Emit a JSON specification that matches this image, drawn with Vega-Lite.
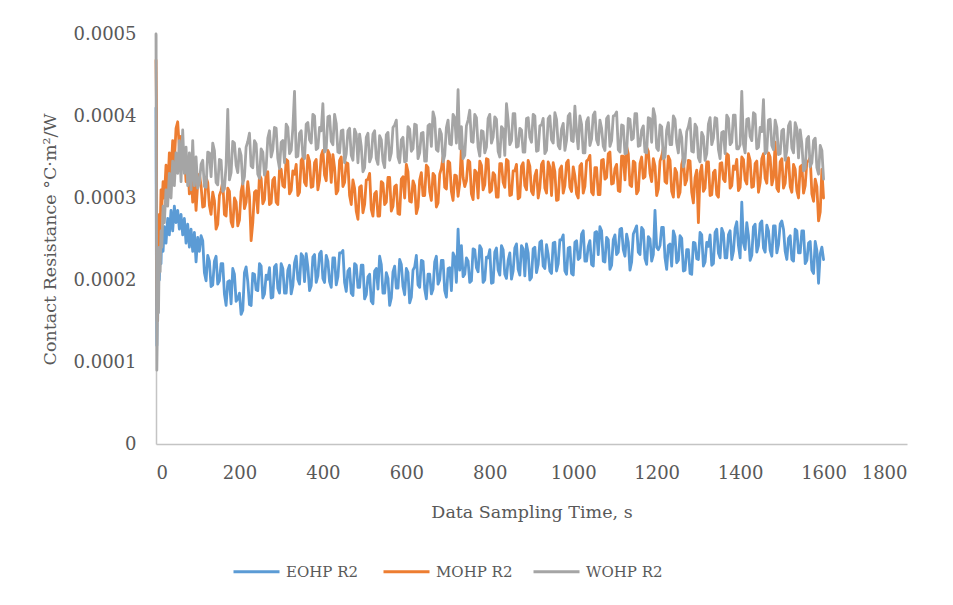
{
  "$schema": "https://vega.github.io/schema/vega-lite/v6.json",
  "autosize": {"type": "none"},
  "width": 751,
  "height": 410,
  "padding": {"left": 156, "top": 34, "right": 46, "bottom": 161},
  "background": "#ffffff",
  "config": {
    "view": {"stroke": null},
    "font": "DejaVu Serif",
    "axis": {"labelFont": "DejaVu Serif", "titleFont": "DejaVu Serif", "labelColor": "#595959", "titleColor": "#595959", "titleFontWeight": "normal", "labelFontSize": 18, "titleFontSize": 17.5, "ticks": false, "grid": false, "domainColor": "#c4c4c4", "domainWidth": 1.5},
    "legend": {"labelFont": "DejaVu Serif", "labelColor": "#595959", "labelFontSize": 15}
  },
  "data": {"values": [
    {"t":0,"EOHP R2":0.000410,"MOHP R2":0.000468,"WOHP R2":0.000500},
    {"t":1,"EOHP R2":0.000200,"MOHP R2":0.000420,"WOHP R2":0.000300},
    {"t":2,"EOHP R2":0.000120,"MOHP R2":0.000200,"WOHP R2":0.000090},
    {"t":3,"EOHP R2":0.000180,"MOHP R2":0.000150,"WOHP R2":0.000130},
    {"t":4,"EOHP R2":0.000150,"MOHP R2":0.000250,"WOHP R2":0.000190},
    {"t":6,"EOHP R2":0.000230,"MOHP R2":0.000210,"WOHP R2":0.000160},
    {"t":8,"EOHP R2":0.000200,"MOHP R2":0.000280,"WOHP R2":0.000240},
    {"t":10,"EOHP R2":0.000240,"MOHP R2":0.000260,"WOHP R2":0.000210},
    {"t":12,"EOHP R2":0.000220,"MOHP R2":0.000310,"WOHP R2":0.000260},
    {"t":14,"EOHP R2":0.000260,"MOHP R2":0.000290,"WOHP R2":0.000240},
    {"t":17,"EOHP R2":0.000235,"MOHP R2":0.000320,"WOHP R2":0.000290},
    {"t":20,"EOHP R2":0.000265,"MOHP R2":0.000300,"WOHP R2":0.000270},
    {"t":24,"EOHP R2":0.000245,"MOHP R2":0.000340,"WOHP R2":0.000310},
    {"t":28,"EOHP R2":0.000275,"MOHP R2":0.000310,"WOHP R2":0.000290},
    {"t":32,"EOHP R2":0.000255,"MOHP R2":0.000355,"WOHP R2":0.000330},
    {"t":36,"EOHP R2":0.000285,"MOHP R2":0.000330,"WOHP R2":0.000300},
    {"t":40,"EOHP R2":0.000260,"MOHP R2":0.000370,"WOHP R2":0.000345},
    {"t":44,"EOHP R2":0.000290,"MOHP R2":0.000345,"WOHP R2":0.000315},
    {"t":48,"EOHP R2":0.000270,"MOHP R2":0.000385,"WOHP R2":0.000355},
    {"t":52,"EOHP R2":0.000285,"MOHP R2":0.000393,"WOHP R2":0.000330},
    {"t":56,"EOHP R2":0.000262,"MOHP R2":0.000360,"WOHP R2":0.000370},
    {"t":60,"EOHP R2":0.000280,"MOHP R2":0.000375,"WOHP R2":0.000320},
    {"t":64,"EOHP R2":0.000255,"MOHP R2":0.000340,"WOHP R2":0.000383},
    {"t":68,"EOHP R2":0.000275,"MOHP R2":0.000355,"WOHP R2":0.000330},
    {"t":72,"EOHP R2":0.000245,"MOHP R2":0.000320,"WOHP R2":0.000362},
    {"t":76,"EOHP R2":0.000268,"MOHP R2":0.000345,"WOHP R2":0.000315},
    {"t":80,"EOHP R2":0.000240,"MOHP R2":0.000305,"WOHP R2":0.000355},
    {"t":84,"EOHP R2":0.000262,"MOHP R2":0.000330,"WOHP R2":0.000310},
    {"t":88,"EOHP R2":0.000235,"MOHP R2":0.000295,"WOHP R2":0.000370},
    {"t":92,"EOHP R2":0.000258,"MOHP R2":0.000320,"WOHP R2":0.000315},
    {"t":96,"EOHP R2":0.000222,"MOHP R2":0.000285,"WOHP R2":0.000350},
    {"t":100,"EOHP R2":0.000252,"MOHP R2":0.000318,"WOHP R2":0.000312},
    {"t":104,"EOHP R2":0.000235,"MOHP R2":0.000329,"WOHP R2":0.000318},
    {"t":108,"EOHP R2":0.000254,"MOHP R2":0.000315,"WOHP R2":0.000341},
    {"t":112,"EOHP R2":0.000248,"MOHP R2":0.000289,"WOHP R2":0.000346},
    {"t":116,"EOHP R2":0.000209,"MOHP R2":0.000290,"WOHP R2":0.000314},
    {"t":120,"EOHP R2":0.000199,"MOHP R2":0.000325,"WOHP R2":0.000313},
    {"t":124,"EOHP R2":0.000230,"MOHP R2":0.000319,"WOHP R2":0.000356},
    {"t":128,"EOHP R2":0.000223,"MOHP R2":0.000291,"WOHP R2":0.000355},
    {"t":132,"EOHP R2":0.000192,"MOHP R2":0.000280,"WOHP R2":0.000326},
    {"t":136,"EOHP R2":0.000194,"MOHP R2":0.000307,"WOHP R2":0.000367},
    {"t":140,"EOHP R2":0.000223,"MOHP R2":0.000297,"WOHP R2":0.000358},
    {"t":144,"EOHP R2":0.000229,"MOHP R2":0.000262,"WOHP R2":0.000319},
    {"t":148,"EOHP R2":0.000195,"MOHP R2":0.000268,"WOHP R2":0.000316},
    {"t":152,"EOHP R2":0.000199,"MOHP R2":0.000303,"WOHP R2":0.000347},
    {"t":156,"EOHP R2":0.000220,"MOHP R2":0.000309,"WOHP R2":0.000346},
    {"t":160,"EOHP R2":0.000220,"MOHP R2":0.000320,"WOHP R2":0.000308},
    {"t":164,"EOHP R2":0.000183,"MOHP R2":0.000280,"WOHP R2":0.000311},
    {"t":168,"EOHP R2":0.000169,"MOHP R2":0.000278,"WOHP R2":0.000340},
    {"t":172,"EOHP R2":0.000198,"MOHP R2":0.000312,"WOHP R2":0.000408},
    {"t":176,"EOHP R2":0.000199,"MOHP R2":0.000308,"WOHP R2":0.000322},
    {"t":180,"EOHP R2":0.000171,"MOHP R2":0.000271,"WOHP R2":0.000331},
    {"t":184,"EOHP R2":0.000214,"MOHP R2":0.000265,"WOHP R2":0.000369},
    {"t":188,"EOHP R2":0.000207,"MOHP R2":0.000300,"WOHP R2":0.000367},
    {"t":192,"EOHP R2":0.000174,"MOHP R2":0.000295,"WOHP R2":0.000340},
    {"t":196,"EOHP R2":0.000177,"MOHP R2":0.000266,"WOHP R2":0.000331},
    {"t":200,"EOHP R2":0.000184,"MOHP R2":0.000273,"WOHP R2":0.000360},
    {"t":204,"EOHP R2":0.000158,"MOHP R2":0.000308,"WOHP R2":0.000352},
    {"t":208,"EOHP R2":0.000163,"MOHP R2":0.000318,"WOHP R2":0.000317},
    {"t":212,"EOHP R2":0.000209,"MOHP R2":0.000287,"WOHP R2":0.000326},
    {"t":216,"EOHP R2":0.000216,"MOHP R2":0.000295,"WOHP R2":0.000362},
    {"t":220,"EOHP R2":0.000198,"MOHP R2":0.000320,"WOHP R2":0.000369},
    {"t":224,"EOHP R2":0.000170,"MOHP R2":0.000302,"WOHP R2":0.000379},
    {"t":228,"EOHP R2":0.000169,"MOHP R2":0.000248,"WOHP R2":0.000339},
    {"t":232,"EOHP R2":0.000208,"MOHP R2":0.000270,"WOHP R2":0.000337},
    {"t":236,"EOHP R2":0.000207,"MOHP R2":0.000307,"WOHP R2":0.000370},
    {"t":240,"EOHP R2":0.000188,"MOHP R2":0.000309,"WOHP R2":0.000366},
    {"t":244,"EOHP R2":0.000187,"MOHP R2":0.000282,"WOHP R2":0.000329},
    {"t":248,"EOHP R2":0.000220,"MOHP R2":0.000328,"WOHP R2":0.000324},
    {"t":252,"EOHP R2":0.000217,"MOHP R2":0.000324,"WOHP R2":0.000360},
    {"t":256,"EOHP R2":0.000178,"MOHP R2":0.000293,"WOHP R2":0.000356},
    {"t":260,"EOHP R2":0.000183,"MOHP R2":0.000298,"WOHP R2":0.000328},
    {"t":264,"EOHP R2":0.000206,"MOHP R2":0.000331,"WOHP R2":0.000337},
    {"t":268,"EOHP R2":0.000201,"MOHP R2":0.000332,"WOHP R2":0.000373},
    {"t":272,"EOHP R2":0.000215,"MOHP R2":0.000292,"WOHP R2":0.000382},
    {"t":276,"EOHP R2":0.000178,"MOHP R2":0.000294,"WOHP R2":0.000350},
    {"t":280,"EOHP R2":0.000179,"MOHP R2":0.000322,"WOHP R2":0.000359},
    {"t":284,"EOHP R2":0.000216,"MOHP R2":0.000325,"WOHP R2":0.000386},
    {"t":288,"EOHP R2":0.000219,"MOHP R2":0.000295,"WOHP R2":0.000385},
    {"t":292,"EOHP R2":0.000190,"MOHP R2":0.000292,"WOHP R2":0.000348},
    {"t":296,"EOHP R2":0.000184,"MOHP R2":0.000334,"WOHP R2":0.000336},
    {"t":300,"EOHP R2":0.000220,"MOHP R2":0.000335,"WOHP R2":0.000368},
    {"t":304,"EOHP R2":0.000214,"MOHP R2":0.000315,"WOHP R2":0.000370},
    {"t":308,"EOHP R2":0.000184,"MOHP R2":0.000313,"WOHP R2":0.000343},
    {"t":312,"EOHP R2":0.000184,"MOHP R2":0.000347,"WOHP R2":0.000390},
    {"t":316,"EOHP R2":0.000212,"MOHP R2":0.000345,"WOHP R2":0.000386},
    {"t":320,"EOHP R2":0.000218,"MOHP R2":0.000305,"WOHP R2":0.000354},
    {"t":324,"EOHP R2":0.000183,"MOHP R2":0.000309,"WOHP R2":0.000358},
    {"t":328,"EOHP R2":0.000193,"MOHP R2":0.000333,"WOHP R2":0.000385},
    {"t":332,"EOHP R2":0.000221,"MOHP R2":0.000329,"WOHP R2":0.000430},
    {"t":336,"EOHP R2":0.000229,"MOHP R2":0.000341,"WOHP R2":0.000350},
    {"t":340,"EOHP R2":0.000201,"MOHP R2":0.000303,"WOHP R2":0.000351},
    {"t":344,"EOHP R2":0.000195,"MOHP R2":0.000307,"WOHP R2":0.000379},
    {"t":348,"EOHP R2":0.000232,"MOHP R2":0.000346,"WOHP R2":0.000382},
    {"t":352,"EOHP R2":0.000229,"MOHP R2":0.000349,"WOHP R2":0.000351},
    {"t":356,"EOHP R2":0.000198,"MOHP R2":0.000319,"WOHP R2":0.000348},
    {"t":360,"EOHP R2":0.000232,"MOHP R2":0.000315,"WOHP R2":0.000390},
    {"t":364,"EOHP R2":0.000216,"MOHP R2":0.000352,"WOHP R2":0.000392},
    {"t":368,"EOHP R2":0.000187,"MOHP R2":0.000345,"WOHP R2":0.000371},
    {"t":372,"EOHP R2":0.000193,"MOHP R2":0.000313,"WOHP R2":0.000367},
    {"t":376,"EOHP R2":0.000228,"MOHP R2":0.000314,"WOHP R2":0.000402},
    {"t":380,"EOHP R2":0.000231,"MOHP R2":0.000343,"WOHP R2":0.000400},
    {"t":384,"EOHP R2":0.000197,"MOHP R2":0.000347,"WOHP R2":0.000359},
    {"t":388,"EOHP R2":0.000205,"MOHP R2":0.000310,"WOHP R2":0.000361},
    {"t":392,"EOHP R2":0.000232,"MOHP R2":0.000322,"WOHP R2":0.000386},
    {"t":396,"EOHP R2":0.000235,"MOHP R2":0.000352,"WOHP R2":0.000382},
    {"t":400,"EOHP R2":0.000202,"MOHP R2":0.000358,"WOHP R2":0.000415},
    {"t":404,"EOHP R2":0.000197,"MOHP R2":0.000328,"WOHP R2":0.000356},
    {"t":408,"EOHP R2":0.000230,"MOHP R2":0.000321,"WOHP R2":0.000360},
    {"t":412,"EOHP R2":0.000223,"MOHP R2":0.000358,"WOHP R2":0.000399},
    {"t":416,"EOHP R2":0.000198,"MOHP R2":0.000353,"WOHP R2":0.000400},
    {"t":420,"EOHP R2":0.000191,"MOHP R2":0.000319,"WOHP R2":0.000369},
    {"t":424,"EOHP R2":0.000227,"MOHP R2":0.000353,"WOHP R2":0.000365},
    {"t":428,"EOHP R2":0.000227,"MOHP R2":0.000337,"WOHP R2":0.000402},
    {"t":432,"EOHP R2":0.000194,"MOHP R2":0.000305,"WOHP R2":0.000391},
    {"t":436,"EOHP R2":0.000204,"MOHP R2":0.000309,"WOHP R2":0.000356},
    {"t":440,"EOHP R2":0.000233,"MOHP R2":0.000346,"WOHP R2":0.000355},
    {"t":444,"EOHP R2":0.000233,"MOHP R2":0.000350,"WOHP R2":0.000382},
    {"t":448,"EOHP R2":0.000236,"MOHP R2":0.000314,"WOHP R2":0.000383},
    {"t":452,"EOHP R2":0.000197,"MOHP R2":0.000319,"WOHP R2":0.000343},
    {"t":456,"EOHP R2":0.000186,"MOHP R2":0.000343,"WOHP R2":0.000354},
    {"t":460,"EOHP R2":0.000211,"MOHP R2":0.000342,"WOHP R2":0.000382},
    {"t":464,"EOHP R2":0.000214,"MOHP R2":0.000303,"WOHP R2":0.000385},
    {"t":468,"EOHP R2":0.000184,"MOHP R2":0.000292,"WOHP R2":0.000352},
    {"t":472,"EOHP R2":0.000181,"MOHP R2":0.000322,"WOHP R2":0.000346},
    {"t":476,"EOHP R2":0.000220,"MOHP R2":0.000312,"WOHP R2":0.000384},
    {"t":480,"EOHP R2":0.000218,"MOHP R2":0.000284,"WOHP R2":0.000378},
    {"t":484,"EOHP R2":0.000191,"MOHP R2":0.000274,"WOHP R2":0.000343},
    {"t":488,"EOHP R2":0.000191,"MOHP R2":0.000313,"WOHP R2":0.000378},
    {"t":492,"EOHP R2":0.000218,"MOHP R2":0.000315,"WOHP R2":0.000363},
    {"t":496,"EOHP R2":0.000218,"MOHP R2":0.000282,"WOHP R2":0.000332},
    {"t":500,"EOHP R2":0.000177,"MOHP R2":0.000292,"WOHP R2":0.000337},
    {"t":504,"EOHP R2":0.000182,"MOHP R2":0.000322,"WOHP R2":0.000374},
    {"t":508,"EOHP R2":0.000204,"MOHP R2":0.000323,"WOHP R2":0.000379},
    {"t":512,"EOHP R2":0.000207,"MOHP R2":0.000330,"WOHP R2":0.000344},
    {"t":516,"EOHP R2":0.000174,"MOHP R2":0.000286,"WOHP R2":0.000350},
    {"t":520,"EOHP R2":0.000171,"MOHP R2":0.000278,"WOHP R2":0.000378},
    {"t":524,"EOHP R2":0.000211,"MOHP R2":0.000305,"WOHP R2":0.000382},
    {"t":528,"EOHP R2":0.000214,"MOHP R2":0.000308,"WOHP R2":0.000348},
    {"t":532,"EOHP R2":0.000189,"MOHP R2":0.000278,"WOHP R2":0.000341},
    {"t":536,"EOHP R2":0.000229,"MOHP R2":0.000278,"WOHP R2":0.000376},
    {"t":540,"EOHP R2":0.000219,"MOHP R2":0.000320,"WOHP R2":0.000371},
    {"t":544,"EOHP R2":0.000184,"MOHP R2":0.000318,"WOHP R2":0.000345},
    {"t":548,"EOHP R2":0.000184,"MOHP R2":0.000292,"WOHP R2":0.000337},
    {"t":552,"EOHP R2":0.000209,"MOHP R2":0.000295,"WOHP R2":0.000377},
    {"t":556,"EOHP R2":0.000202,"MOHP R2":0.000325,"WOHP R2":0.000380},
    {"t":560,"EOHP R2":0.000169,"MOHP R2":0.000325,"WOHP R2":0.000346},
    {"t":564,"EOHP R2":0.000178,"MOHP R2":0.000284,"WOHP R2":0.000355},
    {"t":568,"EOHP R2":0.000210,"MOHP R2":0.000290,"WOHP R2":0.000386},
    {"t":572,"EOHP R2":0.000217,"MOHP R2":0.000314,"WOHP R2":0.000389},
    {"t":576,"EOHP R2":0.000190,"MOHP R2":0.000316,"WOHP R2":0.000395},
    {"t":580,"EOHP R2":0.000190,"MOHP R2":0.000281,"WOHP R2":0.000350},
    {"t":584,"EOHP R2":0.000225,"MOHP R2":0.000280,"WOHP R2":0.000343},
    {"t":588,"EOHP R2":0.000219,"MOHP R2":0.000323,"WOHP R2":0.000371},
    {"t":592,"EOHP R2":0.000192,"MOHP R2":0.000326,"WOHP R2":0.000374},
    {"t":596,"EOHP R2":0.000182,"MOHP R2":0.000300,"WOHP R2":0.000344},
    {"t":600,"EOHP R2":0.000214,"MOHP R2":0.000341,"WOHP R2":0.000345},
    {"t":604,"EOHP R2":0.000209,"MOHP R2":0.000332,"WOHP R2":0.000387},
    {"t":608,"EOHP R2":0.000172,"MOHP R2":0.000296,"WOHP R2":0.000384},
    {"t":612,"EOHP R2":0.000179,"MOHP R2":0.000295,"WOHP R2":0.000357},
    {"t":616,"EOHP R2":0.000212,"MOHP R2":0.000321,"WOHP R2":0.000360},
    {"t":620,"EOHP R2":0.000216,"MOHP R2":0.000315,"WOHP R2":0.000390},
    {"t":624,"EOHP R2":0.000230,"MOHP R2":0.000281,"WOHP R2":0.000389},
    {"t":628,"EOHP R2":0.000194,"MOHP R2":0.000289,"WOHP R2":0.000348},
    {"t":632,"EOHP R2":0.000191,"MOHP R2":0.000322,"WOHP R2":0.000355},
    {"t":636,"EOHP R2":0.000224,"MOHP R2":0.000331,"WOHP R2":0.000379},
    {"t":640,"EOHP R2":0.000223,"MOHP R2":0.000303,"WOHP R2":0.000380},
    {"t":644,"EOHP R2":0.000189,"MOHP R2":0.000303,"WOHP R2":0.000345},
    {"t":648,"EOHP R2":0.000177,"MOHP R2":0.000340,"WOHP R2":0.000345},
    {"t":652,"EOHP R2":0.000207,"MOHP R2":0.000337,"WOHP R2":0.000388},
    {"t":656,"EOHP R2":0.000207,"MOHP R2":0.000308,"WOHP R2":0.000390},
    {"t":660,"EOHP R2":0.000183,"MOHP R2":0.000297,"WOHP R2":0.000363},
    {"t":664,"EOHP R2":0.000189,"MOHP R2":0.000330,"WOHP R2":0.000405},
    {"t":668,"EOHP R2":0.000222,"MOHP R2":0.000327,"WOHP R2":0.000397},
    {"t":672,"EOHP R2":0.000229,"MOHP R2":0.000289,"WOHP R2":0.000359},
    {"t":676,"EOHP R2":0.000195,"MOHP R2":0.000294,"WOHP R2":0.000357},
    {"t":680,"EOHP R2":0.000200,"MOHP R2":0.000329,"WOHP R2":0.000384},
    {"t":684,"EOHP R2":0.000224,"MOHP R2":0.000336,"WOHP R2":0.000378},
    {"t":688,"EOHP R2":0.000224,"MOHP R2":0.000350,"WOHP R2":0.000344},
    {"t":692,"EOHP R2":0.000187,"MOHP R2":0.000313,"WOHP R2":0.000352},
    {"t":696,"EOHP R2":0.000179,"MOHP R2":0.000311,"WOHP R2":0.000386},
    {"t":700,"EOHP R2":0.000214,"MOHP R2":0.000345,"WOHP R2":0.000395},
    {"t":704,"EOHP R2":0.000215,"MOHP R2":0.000343,"WOHP R2":0.000366},
    {"t":708,"EOHP R2":0.000187,"MOHP R2":0.000308,"WOHP R2":0.000365},
    {"t":712,"EOHP R2":0.000233,"MOHP R2":0.000297,"WOHP R2":0.000402},
    {"t":716,"EOHP R2":0.000228,"MOHP R2":0.000328,"WOHP R2":0.000398},
    {"t":720,"EOHP R2":0.000197,"MOHP R2":0.000327,"WOHP R2":0.000367},
    {"t":724,"EOHP R2":0.000262,"MOHP R2":0.000302,"WOHP R2":0.000432},
    {"t":728,"EOHP R2":0.000212,"MOHP R2":0.000318,"WOHP R2":0.000360},
    {"t":732,"EOHP R2":0.000242,"MOHP R2":0.000362,"WOHP R2":0.000387},
    {"t":736,"EOHP R2":0.000204,"MOHP R2":0.000325,"WOHP R2":0.000348},
    {"t":740,"EOHP R2":0.000207,"MOHP R2":0.000314,"WOHP R2":0.000352},
    {"t":744,"EOHP R2":0.000227,"MOHP R2":0.000321,"WOHP R2":0.000388},
    {"t":748,"EOHP R2":0.000223,"MOHP R2":0.000346,"WOHP R2":0.000395},
    {"t":752,"EOHP R2":0.000197,"MOHP R2":0.000344,"WOHP R2":0.000407},
    {"t":756,"EOHP R2":0.000199,"MOHP R2":0.000305,"WOHP R2":0.000369},
    {"t":760,"EOHP R2":0.000238,"MOHP R2":0.000298,"WOHP R2":0.000368},
    {"t":764,"EOHP R2":0.000237,"MOHP R2":0.000334,"WOHP R2":0.000402},
    {"t":768,"EOHP R2":0.000215,"MOHP R2":0.000331,"WOHP R2":0.000398},
    {"t":772,"EOHP R2":0.000210,"MOHP R2":0.000300,"WOHP R2":0.000362},
    {"t":776,"EOHP R2":0.000242,"MOHP R2":0.000345,"WOHP R2":0.000351},
    {"t":780,"EOHP R2":0.000238,"MOHP R2":0.000340,"WOHP R2":0.000382},
    {"t":784,"EOHP R2":0.000197,"MOHP R2":0.000310,"WOHP R2":0.000381},
    {"t":788,"EOHP R2":0.000200,"MOHP R2":0.000316,"WOHP R2":0.000355},
    {"t":792,"EOHP R2":0.000228,"MOHP R2":0.000348,"WOHP R2":0.000362},
    {"t":796,"EOHP R2":0.000227,"MOHP R2":0.000347,"WOHP R2":0.000397},
    {"t":800,"EOHP R2":0.000237,"MOHP R2":0.000307,"WOHP R2":0.000402},
    {"t":804,"EOHP R2":0.000196,"MOHP R2":0.000309,"WOHP R2":0.000367},
    {"t":808,"EOHP R2":0.000197,"MOHP R2":0.000331,"WOHP R2":0.000374},
    {"t":812,"EOHP R2":0.000234,"MOHP R2":0.000328,"WOHP R2":0.000399},
    {"t":816,"EOHP R2":0.000239,"MOHP R2":0.000301,"WOHP R2":0.000396},
    {"t":820,"EOHP R2":0.000212,"MOHP R2":0.000301,"WOHP R2":0.000357},
    {"t":824,"EOHP R2":0.000206,"MOHP R2":0.000342,"WOHP R2":0.000350},
    {"t":828,"EOHP R2":0.000242,"MOHP R2":0.000342,"WOHP R2":0.000387},
    {"t":832,"EOHP R2":0.000237,"MOHP R2":0.000319,"WOHP R2":0.000384},
    {"t":836,"EOHP R2":0.000207,"MOHP R2":0.000313,"WOHP R2":0.000352},
    {"t":840,"EOHP R2":0.000202,"MOHP R2":0.000347,"WOHP R2":0.000415},
    {"t":844,"EOHP R2":0.000224,"MOHP R2":0.000345,"WOHP R2":0.000395},
    {"t":848,"EOHP R2":0.000233,"MOHP R2":0.000303,"WOHP R2":0.000365},
    {"t":852,"EOHP R2":0.000201,"MOHP R2":0.000304,"WOHP R2":0.000370},
    {"t":856,"EOHP R2":0.000211,"MOHP R2":0.000333,"WOHP R2":0.000403},
    {"t":860,"EOHP R2":0.000239,"MOHP R2":0.000333,"WOHP R2":0.000403},
    {"t":864,"EOHP R2":0.000244,"MOHP R2":0.000341,"WOHP R2":0.000362},
    {"t":868,"EOHP R2":0.000213,"MOHP R2":0.000299,"WOHP R2":0.000363},
    {"t":872,"EOHP R2":0.000206,"MOHP R2":0.000301,"WOHP R2":0.000385},
    {"t":876,"EOHP R2":0.000242,"MOHP R2":0.000339,"WOHP R2":0.000383},
    {"t":880,"EOHP R2":0.000238,"MOHP R2":0.000343,"WOHP R2":0.000356},
    {"t":884,"EOHP R2":0.000205,"MOHP R2":0.000315,"WOHP R2":0.000356},
    {"t":888,"EOHP R2":0.000244,"MOHP R2":0.000310,"WOHP R2":0.000397},
    {"t":892,"EOHP R2":0.000233,"MOHP R2":0.000346,"WOHP R2":0.000398},
    {"t":896,"EOHP R2":0.000200,"MOHP R2":0.000339,"WOHP R2":0.000374},
    {"t":900,"EOHP R2":0.000203,"MOHP R2":0.000308,"WOHP R2":0.000368},
    {"t":904,"EOHP R2":0.000238,"MOHP R2":0.000304,"WOHP R2":0.000402},
    {"t":908,"EOHP R2":0.000240,"MOHP R2":0.000327,"WOHP R2":0.000400},
    {"t":912,"EOHP R2":0.000209,"MOHP R2":0.000334,"WOHP R2":0.000357},
    {"t":916,"EOHP R2":0.000219,"MOHP R2":0.000300,"WOHP R2":0.000358},
    {"t":920,"EOHP R2":0.000246,"MOHP R2":0.000312,"WOHP R2":0.000388},
    {"t":924,"EOHP R2":0.000248,"MOHP R2":0.000341,"WOHP R2":0.000389},
    {"t":928,"EOHP R2":0.000217,"MOHP R2":0.000345,"WOHP R2":0.000397},
    {"t":932,"EOHP R2":0.000214,"MOHP R2":0.000312,"WOHP R2":0.000354},
    {"t":936,"EOHP R2":0.000243,"MOHP R2":0.000306,"WOHP R2":0.000358},
    {"t":940,"EOHP R2":0.000231,"MOHP R2":0.000344,"WOHP R2":0.000397},
    {"t":944,"EOHP R2":0.000211,"MOHP R2":0.000338,"WOHP R2":0.000400},
    {"t":948,"EOHP R2":0.000208,"MOHP R2":0.000303,"WOHP R2":0.000371},
    {"t":952,"EOHP R2":0.000245,"MOHP R2":0.000343,"WOHP R2":0.000367},
    {"t":956,"EOHP R2":0.000246,"MOHP R2":0.000332,"WOHP R2":0.000404},
    {"t":960,"EOHP R2":0.000211,"MOHP R2":0.000297,"WOHP R2":0.000396},
    {"t":964,"EOHP R2":0.000220,"MOHP R2":0.000298,"WOHP R2":0.000364},
    {"t":968,"EOHP R2":0.000249,"MOHP R2":0.000335,"WOHP R2":0.000360},
    {"t":972,"EOHP R2":0.000249,"MOHP R2":0.000339,"WOHP R2":0.000384},
    {"t":976,"EOHP R2":0.000255,"MOHP R2":0.000306,"WOHP R2":0.000391},
    {"t":980,"EOHP R2":0.000211,"MOHP R2":0.000315,"WOHP R2":0.000358},
    {"t":984,"EOHP R2":0.000207,"MOHP R2":0.000343,"WOHP R2":0.000370},
    {"t":988,"EOHP R2":0.000239,"MOHP R2":0.000346,"WOHP R2":0.000400},
    {"t":992,"EOHP R2":0.000240,"MOHP R2":0.000313,"WOHP R2":0.000403},
    {"t":996,"EOHP R2":0.000208,"MOHP R2":0.000308,"WOHP R2":0.000370},
    {"t":1000,"EOHP R2":0.000206,"MOHP R2":0.000338,"WOHP R2":0.000369},
    {"t":1004,"EOHP R2":0.000246,"MOHP R2":0.000327,"WOHP R2":0.000412},
    {"t":1008,"EOHP R2":0.000248,"MOHP R2":0.000305,"WOHP R2":0.000380},
    {"t":1012,"EOHP R2":0.000225,"MOHP R2":0.000300,"WOHP R2":0.000360},
    {"t":1016,"EOHP R2":0.000227,"MOHP R2":0.000339,"WOHP R2":0.000400},
    {"t":1020,"EOHP R2":0.000256,"MOHP R2":0.000342,"WOHP R2":0.000390},
    {"t":1024,"EOHP R2":0.000260,"MOHP R2":0.000306,"WOHP R2":0.000355},
    {"t":1028,"EOHP R2":0.000223,"MOHP R2":0.000314,"WOHP R2":0.000355},
    {"t":1032,"EOHP R2":0.000223,"MOHP R2":0.000345,"WOHP R2":0.000393},
    {"t":1036,"EOHP R2":0.000241,"MOHP R2":0.000347,"WOHP R2":0.000398},
    {"t":1040,"EOHP R2":0.000248,"MOHP R2":0.000352,"WOHP R2":0.000364},
    {"t":1044,"EOHP R2":0.000219,"MOHP R2":0.000307,"WOHP R2":0.000372},
    {"t":1048,"EOHP R2":0.000217,"MOHP R2":0.000304,"WOHP R2":0.000401},
    {"t":1052,"EOHP R2":0.000258,"MOHP R2":0.000337,"WOHP R2":0.000405},
    {"t":1056,"EOHP R2":0.000259,"MOHP R2":0.000337,"WOHP R2":0.000371},
    {"t":1060,"EOHP R2":0.000231,"MOHP R2":0.000304,"WOHP R2":0.000365},
    {"t":1064,"EOHP R2":0.000265,"MOHP R2":0.000304,"WOHP R2":0.000395},
    {"t":1068,"EOHP R2":0.000260,"MOHP R2":0.000346,"WOHP R2":0.000385},
    {"t":1072,"EOHP R2":0.000223,"MOHP R2":0.000347,"WOHP R2":0.000363},
    {"t":1076,"EOHP R2":0.000222,"MOHP R2":0.000323,"WOHP R2":0.000358},
    {"t":1080,"EOHP R2":0.000252,"MOHP R2":0.000325,"WOHP R2":0.000397},
    {"t":1084,"EOHP R2":0.000249,"MOHP R2":0.000354,"WOHP R2":0.000400},
    {"t":1088,"EOHP R2":0.000213,"MOHP R2":0.000356,"WOHP R2":0.000363},
    {"t":1092,"EOHP R2":0.000218,"MOHP R2":0.000317,"WOHP R2":0.000370},
    {"t":1096,"EOHP R2":0.000249,"MOHP R2":0.000318,"WOHP R2":0.000400},
    {"t":1100,"EOHP R2":0.000255,"MOHP R2":0.000336,"WOHP R2":0.000401},
    {"t":1104,"EOHP R2":0.000231,"MOHP R2":0.000341,"WOHP R2":0.000405},
    {"t":1108,"EOHP R2":0.000234,"MOHP R2":0.000309,"WOHP R2":0.000359},
    {"t":1112,"EOHP R2":0.000262,"MOHP R2":0.000308,"WOHP R2":0.000356},
    {"t":1116,"EOHP R2":0.000263,"MOHP R2":0.000351,"WOHP R2":0.000389},
    {"t":1120,"EOHP R2":0.000237,"MOHP R2":0.000351,"WOHP R2":0.000388},
    {"t":1124,"EOHP R2":0.000229,"MOHP R2":0.000322,"WOHP R2":0.000354},
    {"t":1128,"EOHP R2":0.000256,"MOHP R2":0.000363,"WOHP R2":0.000355},
    {"t":1132,"EOHP R2":0.000246,"MOHP R2":0.000354,"WOHP R2":0.000397},
    {"t":1136,"EOHP R2":0.000212,"MOHP R2":0.000316,"WOHP R2":0.000396},
    {"t":1140,"EOHP R2":0.000222,"MOHP R2":0.000314,"WOHP R2":0.000371},
    {"t":1144,"EOHP R2":0.000256,"MOHP R2":0.000345,"WOHP R2":0.000373},
    {"t":1148,"EOHP R2":0.000261,"MOHP R2":0.000343,"WOHP R2":0.000403},
    {"t":1152,"EOHP R2":0.000266,"MOHP R2":0.000305,"WOHP R2":0.000403},
    {"t":1156,"EOHP R2":0.000234,"MOHP R2":0.000309,"WOHP R2":0.000363},
    {"t":1160,"EOHP R2":0.000231,"MOHP R2":0.000342,"WOHP R2":0.000364},
    {"t":1164,"EOHP R2":0.000264,"MOHP R2":0.000350,"WOHP R2":0.000383},
    {"t":1168,"EOHP R2":0.000261,"MOHP R2":0.000324,"WOHP R2":0.000388},
    {"t":1172,"EOHP R2":0.000226,"MOHP R2":0.000326,"WOHP R2":0.000356},
    {"t":1176,"EOHP R2":0.000219,"MOHP R2":0.000362,"WOHP R2":0.000355},
    {"t":1180,"EOHP R2":0.000253,"MOHP R2":0.000357,"WOHP R2":0.000398},
    {"t":1184,"EOHP R2":0.000250,"MOHP R2":0.000330,"WOHP R2":0.000397},
    {"t":1188,"EOHP R2":0.000223,"MOHP R2":0.000320,"WOHP R2":0.000368},
    {"t":1192,"EOHP R2":0.000231,"MOHP R2":0.000348,"WOHP R2":0.000409},
    {"t":1196,"EOHP R2":0.000285,"MOHP R2":0.000339,"WOHP R2":0.000400},
    {"t":1200,"EOHP R2":0.000240,"MOHP R2":0.000303,"WOHP R2":0.000361},
    {"t":1204,"EOHP R2":0.000237,"MOHP R2":0.000311,"WOHP R2":0.000358},
    {"t":1208,"EOHP R2":0.000242,"MOHP R2":0.000345,"WOHP R2":0.000389},
    {"t":1212,"EOHP R2":0.000264,"MOHP R2":0.000351,"WOHP R2":0.000387},
    {"t":1216,"EOHP R2":0.000264,"MOHP R2":0.000361,"WOHP R2":0.000348},
    {"t":1220,"EOHP R2":0.000227,"MOHP R2":0.000320,"WOHP R2":0.000350},
    {"t":1224,"EOHP R2":0.000213,"MOHP R2":0.000318,"WOHP R2":0.000383},
    {"t":1228,"EOHP R2":0.000242,"MOHP R2":0.000351,"WOHP R2":0.000392},
    {"t":1232,"EOHP R2":0.000244,"MOHP R2":0.000346,"WOHP R2":0.000365},
    {"t":1236,"EOHP R2":0.000217,"MOHP R2":0.000308,"WOHP R2":0.000365},
    {"t":1240,"EOHP R2":0.000260,"MOHP R2":0.000301,"WOHP R2":0.000400},
    {"t":1244,"EOHP R2":0.000253,"MOHP R2":0.000336,"WOHP R2":0.000396},
    {"t":1248,"EOHP R2":0.000221,"MOHP R2":0.000331,"WOHP R2":0.000367},
    {"t":1252,"EOHP R2":0.000224,"MOHP R2":0.000301,"WOHP R2":0.000355},
    {"t":1256,"EOHP R2":0.000254,"MOHP R2":0.000307,"WOHP R2":0.000383},
    {"t":1260,"EOHP R2":0.000251,"MOHP R2":0.000341,"WOHP R2":0.000374},
    {"t":1264,"EOHP R2":0.000211,"MOHP R2":0.000349,"WOHP R2":0.000338},
    {"t":1268,"EOHP R2":0.000212,"MOHP R2":0.000316,"WOHP R2":0.000346},
    {"t":1272,"EOHP R2":0.000237,"MOHP R2":0.000322,"WOHP R2":0.000381},
    {"t":1276,"EOHP R2":0.000237,"MOHP R2":0.000346,"WOHP R2":0.000387},
    {"t":1280,"EOHP R2":0.000208,"MOHP R2":0.000345,"WOHP R2":0.000397},
    {"t":1284,"EOHP R2":0.000207,"MOHP R2":0.000307,"WOHP R2":0.000357},
    {"t":1288,"EOHP R2":0.000246,"MOHP R2":0.000294,"WOHP R2":0.000356},
    {"t":1292,"EOHP R2":0.000245,"MOHP R2":0.000325,"WOHP R2":0.000390},
    {"t":1296,"EOHP R2":0.000226,"MOHP R2":0.000334,"WOHP R2":0.000386},
    {"t":1300,"EOHP R2":0.000225,"MOHP R2":0.000270,"WOHP R2":0.000349},
    {"t":1304,"EOHP R2":0.000258,"MOHP R2":0.000330,"WOHP R2":0.000344},
    {"t":1308,"EOHP R2":0.000255,"MOHP R2":0.000340,"WOHP R2":0.000380},
    {"t":1312,"EOHP R2":0.000217,"MOHP R2":0.000308,"WOHP R2":0.000375},
    {"t":1316,"EOHP R2":0.000222,"MOHP R2":0.000312,"WOHP R2":0.000346},
    {"t":1320,"EOHP R2":0.000246,"MOHP R2":0.000344,"WOHP R2":0.000354},
    {"t":1324,"EOHP R2":0.000241,"MOHP R2":0.000344,"WOHP R2":0.000390},
    {"t":1328,"EOHP R2":0.000255,"MOHP R2":0.000303,"WOHP R2":0.000398},
    {"t":1332,"EOHP R2":0.000218,"MOHP R2":0.000304,"WOHP R2":0.000365},
    {"t":1336,"EOHP R2":0.000220,"MOHP R2":0.000331,"WOHP R2":0.000373},
    {"t":1340,"EOHP R2":0.000258,"MOHP R2":0.000334,"WOHP R2":0.000398},
    {"t":1344,"EOHP R2":0.000262,"MOHP R2":0.000304,"WOHP R2":0.000397},
    {"t":1348,"EOHP R2":0.000233,"MOHP R2":0.000301,"WOHP R2":0.000359},
    {"t":1352,"EOHP R2":0.000227,"MOHP R2":0.000342,"WOHP R2":0.000348},
    {"t":1356,"EOHP R2":0.000263,"MOHP R2":0.000343,"WOHP R2":0.000380},
    {"t":1360,"EOHP R2":0.000257,"MOHP R2":0.000323,"WOHP R2":0.000381},
    {"t":1364,"EOHP R2":0.000227,"MOHP R2":0.000320,"WOHP R2":0.000354},
    {"t":1368,"EOHP R2":0.000227,"MOHP R2":0.000354,"WOHP R2":0.000401},
    {"t":1372,"EOHP R2":0.000255,"MOHP R2":0.000352,"WOHP R2":0.000397},
    {"t":1376,"EOHP R2":0.000260,"MOHP R2":0.000312,"WOHP R2":0.000365},
    {"t":1380,"EOHP R2":0.000225,"MOHP R2":0.000315,"WOHP R2":0.000368},
    {"t":1384,"EOHP R2":0.000235,"MOHP R2":0.000339,"WOHP R2":0.000401},
    {"t":1388,"EOHP R2":0.000263,"MOHP R2":0.000335,"WOHP R2":0.000401},
    {"t":1392,"EOHP R2":0.000271,"MOHP R2":0.000347,"WOHP R2":0.000360},
    {"t":1396,"EOHP R2":0.000242,"MOHP R2":0.000309,"WOHP R2":0.000360},
    {"t":1400,"EOHP R2":0.000227,"MOHP R2":0.000313,"WOHP R2":0.000365},
    {"t":1404,"EOHP R2":0.000295,"MOHP R2":0.000350,"WOHP R2":0.000430},
    {"t":1408,"EOHP R2":0.000245,"MOHP R2":0.000347,"WOHP R2":0.000366},
    {"t":1412,"EOHP R2":0.000237,"MOHP R2":0.000322,"WOHP R2":0.000355},
    {"t":1416,"EOHP R2":0.000270,"MOHP R2":0.000317,"WOHP R2":0.000396},
    {"t":1420,"EOHP R2":0.000254,"MOHP R2":0.000354,"WOHP R2":0.000397},
    {"t":1424,"EOHP R2":0.000224,"MOHP R2":0.000346,"WOHP R2":0.000375},
    {"t":1428,"EOHP R2":0.000230,"MOHP R2":0.000313,"WOHP R2":0.000370},
    {"t":1432,"EOHP R2":0.000265,"MOHP R2":0.000314,"WOHP R2":0.000404},
    {"t":1436,"EOHP R2":0.000268,"MOHP R2":0.000342,"WOHP R2":0.000402},
    {"t":1440,"EOHP R2":0.000234,"MOHP R2":0.000345,"WOHP R2":0.000360},
    {"t":1444,"EOHP R2":0.000242,"MOHP R2":0.000307,"WOHP R2":0.000362},
    {"t":1448,"EOHP R2":0.000269,"MOHP R2":0.000319,"WOHP R2":0.000386},
    {"t":1452,"EOHP R2":0.000272,"MOHP R2":0.000348,"WOHP R2":0.000381},
    {"t":1456,"EOHP R2":0.000239,"MOHP R2":0.000354,"WOHP R2":0.000420},
    {"t":1460,"EOHP R2":0.000234,"MOHP R2":0.000324,"WOHP R2":0.000354},
    {"t":1464,"EOHP R2":0.000267,"MOHP R2":0.000318,"WOHP R2":0.000357},
    {"t":1468,"EOHP R2":0.000260,"MOHP R2":0.000355,"WOHP R2":0.000395},
    {"t":1472,"EOHP R2":0.000236,"MOHP R2":0.000350,"WOHP R2":0.000396},
    {"t":1476,"EOHP R2":0.000229,"MOHP R2":0.000316,"WOHP R2":0.000364},
    {"t":1480,"EOHP R2":0.000266,"MOHP R2":0.000325,"WOHP R2":0.000359},
    {"t":1484,"EOHP R2":0.000266,"MOHP R2":0.000368,"WOHP R2":0.000395},
    {"t":1488,"EOHP R2":0.000233,"MOHP R2":0.000312,"WOHP R2":0.000386},
    {"t":1492,"EOHP R2":0.000243,"MOHP R2":0.000308,"WOHP R2":0.000353},
    {"t":1496,"EOHP R2":0.000268,"MOHP R2":0.000344,"WOHP R2":0.000354},
    {"t":1500,"EOHP R2":0.000272,"MOHP R2":0.000348,"WOHP R2":0.000382},
    {"t":1504,"EOHP R2":0.000262,"MOHP R2":0.000312,"WOHP R2":0.000384},
    {"t":1508,"EOHP R2":0.000235,"MOHP R2":0.000318,"WOHP R2":0.000346},
    {"t":1512,"EOHP R2":0.000225,"MOHP R2":0.000346,"WOHP R2":0.000358},
    {"t":1516,"EOHP R2":0.000251,"MOHP R2":0.000349,"WOHP R2":0.000388},
    {"t":1520,"EOHP R2":0.000254,"MOHP R2":0.000314,"WOHP R2":0.000393},
    {"t":1524,"EOHP R2":0.000225,"MOHP R2":0.000307,"WOHP R2":0.000361},
    {"t":1528,"EOHP R2":0.000223,"MOHP R2":0.000341,"WOHP R2":0.000355},
    {"t":1532,"EOHP R2":0.000262,"MOHP R2":0.000335,"WOHP R2":0.000392},
    {"t":1536,"EOHP R2":0.000260,"MOHP R2":0.000309,"WOHP R2":0.000385},
    {"t":1540,"EOHP R2":0.000233,"MOHP R2":0.000300,"WOHP R2":0.000349},
    {"t":1544,"EOHP R2":0.000233,"MOHP R2":0.000338,"WOHP R2":0.000383},
    {"t":1548,"EOHP R2":0.000260,"MOHP R2":0.000340,"WOHP R2":0.000366},
    {"t":1552,"EOHP R2":0.000260,"MOHP R2":0.000306,"WOHP R2":0.000333},
    {"t":1556,"EOHP R2":0.000220,"MOHP R2":0.000315,"WOHP R2":0.000336},
    {"t":1560,"EOHP R2":0.000224,"MOHP R2":0.000344,"WOHP R2":0.000372},
    {"t":1564,"EOHP R2":0.000245,"MOHP R2":0.000345,"WOHP R2":0.000375},
    {"t":1568,"EOHP R2":0.000247,"MOHP R2":0.000350,"WOHP R2":0.000338},
    {"t":1572,"EOHP R2":0.000212,"MOHP R2":0.000305,"WOHP R2":0.000343},
    {"t":1576,"EOHP R2":0.000208,"MOHP R2":0.000296,"WOHP R2":0.000370},
    {"t":1580,"EOHP R2":0.000247,"MOHP R2":0.000323,"WOHP R2":0.000373},
    {"t":1584,"EOHP R2":0.000236,"MOHP R2":0.000314,"WOHP R2":0.000337},
    {"t":1588,"EOHP R2":0.000196,"MOHP R2":0.000272,"WOHP R2":0.000329},
    {"t":1592,"EOHP R2":0.000232,"MOHP R2":0.000283,"WOHP R2":0.000364},
    {"t":1596,"EOHP R2":0.000240,"MOHP R2":0.000335,"WOHP R2":0.000358},
    {"t":1600,"EOHP R2":0.000225,"MOHP R2":0.000300,"WOHP R2":0.000323}
  ]},
  "transform": [{"fold": ["EOHP R2", "MOHP R2", "WOHP R2"], "as": ["series", "R"]}],
  "mark": {"type": "line", "strokeWidth": 2.8, "strokeJoin": "round", "strokeCap": "round"},
  "encoding": {
    "x": {"field": "t", "type": "quantitative",
      "scale": {"domain": [0, 1800], "nice": false},
      "axis": {"values": [0, 200, 400, 600, 800, 1000, 1200, 1400, 1600, 1800], "format": "d", "labelBaseline": "alphabetic", "labelPadding": 34, "title": "Data Sampling Time, s", "titleX": 375.5, "titleY": 73, "titleBaseline": "alphabetic", "titleAlign": "center"}},
    "y": {"field": "R", "type": "quantitative",
      "scale": {"domain": [0, 0.0005], "nice": false},
      "axis": {"values": [0, 0.0001, 0.0002, 0.0003, 0.0004, 0.0005], "format": ".4~f", "labelPadding": 20, "title": "Contact Resistance °C·m²/W", "titleX": -101, "titleY": 205, "titleAngle": -90, "titleBaseline": "alphabetic", "titleAlign": "center"}},
    "color": {"field": "series", "type": "nominal",
      "scale": {"domain": ["EOHP R2", "MOHP R2", "WOHP R2"], "range": ["#5B9BD5", "#ED7D31", "#A5A5A5"]},
      "legend": {"title": null, "orient": "none", "legendX": 76, "legendY": 513, "direction": "horizontal", "gridAlign": "all", "symbolType": "stroke", "symbolSize": 2116, "symbolStrokeWidth": 3, "labelOffset": 5, "columnPadding": 14, "padding": 0}}
  }
}
